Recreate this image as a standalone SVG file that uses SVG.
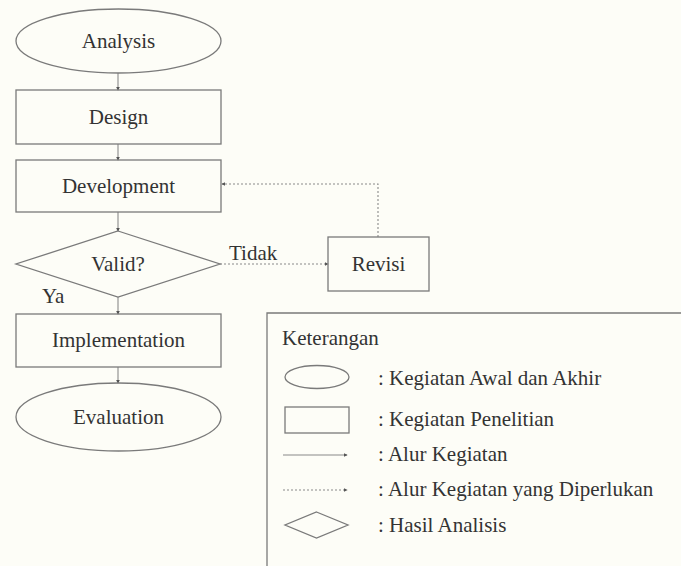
<svg xmlns="http://www.w3.org/2000/svg" width="681" height="566" viewBox="0 0 681 566">
<defs>
<style>
.shape{fill:none;stroke:#7a7a7a;stroke-width:1.3}
.line{fill:none;stroke:#8a8a8a;stroke-width:1.1}
.dot{stroke-dasharray:2 2}
.t{font-family:"Liberation Serif","Times New Roman",serif;font-size:21px;fill:#333}
.c{text-anchor:middle}
</style>
<marker id="ah" viewBox="0 0 6 6" refX="5" refY="3" markerWidth="4" markerHeight="4" orient="auto" markerUnits="userSpaceOnUse">
<path d="M0,0 L6,3 L0,6 z" fill="#555"/>
</marker>
</defs>
<rect width="681" height="566" fill="#fdfdf7"/>
<g id="connectors">
<line class="line" x1="118" y1="73" x2="118" y2="90" marker-end="url(#ah)"/>
<line class="line" x1="118" y1="144" x2="118" y2="160" marker-end="url(#ah)"/>
<line class="line" x1="118" y1="212" x2="118" y2="231" marker-end="url(#ah)"/>
<line class="line" x1="118" y1="297" x2="118" y2="314" marker-end="url(#ah)"/>
<line class="line" x1="118" y1="367" x2="118" y2="383" marker-end="url(#ah)"/>
<line class="line dot" x1="220" y1="264" x2="328" y2="264" marker-end="url(#ah)"/>
<polyline class="line dot" points="378,237 378,184 222,184" marker-end="url(#ah)"/>
<text class="t" x="229" y="260">Tidak</text>
<text class="t" x="42" y="303">Ya</text>
</g>
<g id="analysis">
<ellipse class="shape" cx="118.5" cy="41" rx="102.5" ry="32"/>
<text class="t c" x="118.5" y="48">Analysis</text>
</g>
<g id="design">
<rect class="shape" x="16" y="90" width="205" height="54"/>
<text class="t c" x="118.5" y="124">Design</text>
</g>
<g id="development">
<rect class="shape" x="16" y="160" width="205" height="52"/>
<text class="t c" x="118.5" y="193">Development</text>
</g>
<g id="valid">
<polygon class="shape" points="118,231 220,264 118,297 16,264"/>
<text class="t c" x="118" y="271">Valid?</text>
</g>
<g id="implementation">
<rect class="shape" x="16" y="314" width="205" height="53"/>
<text class="t c" x="118.5" y="347">Implementation</text>
</g>
<g id="evaluation">
<ellipse class="shape" cx="118.5" cy="417" rx="102.5" ry="34"/>
<text class="t c" x="118.5" y="424">Evaluation</text>
</g>
<g id="revisi">
<rect class="shape" x="328" y="237" width="101" height="54"/>
<text class="t c" x="378.5" y="271">Revisi</text>
</g>
<g id="legend">
<polyline class="shape" points="267,566 267,313 690,313" stroke="#9a9a9a"/>
<text class="t" x="282" y="345">Keterangan</text>
<ellipse class="shape" cx="317" cy="377" rx="32" ry="11.5"/>
<text class="t" x="378" y="385">: Kegiatan Awal dan Akhir</text>
<rect class="shape" x="285" y="407" width="64" height="26"/>
<text class="t" x="378" y="426">: Kegiatan Penelitian</text>
<line class="line" x1="283" y1="455" x2="347" y2="455" marker-end="url(#ah)"/>
<text class="t" x="378" y="461">: Alur Kegiatan</text>
<line class="line dot" x1="283" y1="490" x2="347" y2="490" marker-end="url(#ah)"/>
<text class="t" x="378" y="496">: Alur Kegiatan yang Diperlukan</text>
<polygon class="shape" points="316.5,512 348,525 316.5,538 285,525"/>
<text class="t" x="378" y="532">: Hasil Analisis</text>
</g>
</svg>
